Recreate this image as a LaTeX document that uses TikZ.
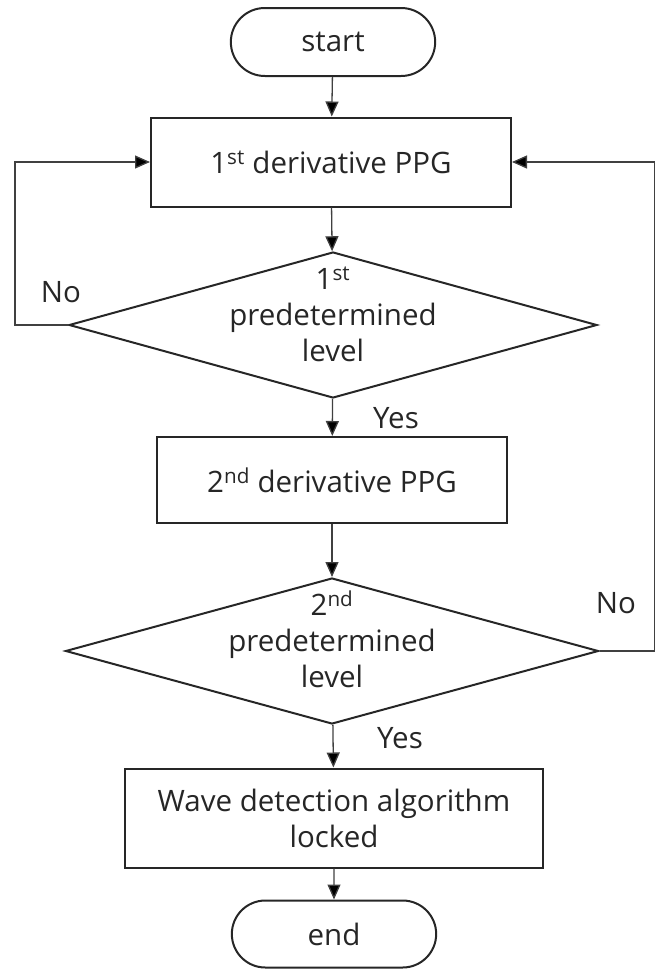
\documentclass[tikz,border=0pt]{standalone}
\usepackage{fontspec}
\setmainfont{Open Sans}
\usetikzlibrary{arrows.meta,shapes}
\tikzstyle{term}=[rounded rectangle,draw=black!85,line width=2pt,minimum width=211pt,minimum height=68pt,text=black!85]
\tikzstyle{proc}=[rectangle,draw=black!85,line width=2pt,align=center,text=black!85]
\tikzstyle{decide}=[diamond,draw=black!85,line width=2pt,inner sep=0pt,minimum height=146pt,text=black!85]
\tikzstyle{flow}=[-{Triangle[length=15pt,width=13pt,fill=black]},line width=1.3pt,draw=black!75]
\tikzstyle{lbl}=[text=black!85]
\newcommand{\dtext}[1]{\smash{\makebox[0pt]{\begin{tabular}{@{}c@{}}#1\end{tabular}}}}

\begin{document}
\begin{tikzpicture}[x=1pt,y=-1pt,font=\fontsize{29.5}{36}\selectfont]
\useasboundingbox (0,0) rectangle (657,969);
\node[term] (S) at (333,42) {start};
\node[proc,minimum width=360pt,minimum height=89pt] (P1) at (331,162) {1\textsuperscript{st} derivative PPG};
\node[decide,minimum width=528pt] (D1) at (333,325) {\dtext{1\textsuperscript{st}\\predetermined\\level}};
\node[proc,minimum width=350pt,minimum height=86pt] (P2) at (332,480) {2\textsuperscript{nd} derivative PPG};
\node[decide,minimum width=533pt] (D2) at (332,651) {\dtext{2\textsuperscript{nd}\\predetermined\\level}};
\node[proc,minimum width=418pt,minimum height=99pt] (P3) at (334,818) {Wave detection algorithm\\locked};
\node[term,minimum height=67pt] (E) at (334,934) {end};
\node[lbl] (N1) at (61,292) {No};
\node[lbl] (Y1) at (396,418) {Yes};
\node[lbl] (N2) at (616,603) {No};
\node[lbl] (Y2) at (400,738) {Yes};
\draw[flow](S)--(P1);\draw[flow](P1)--(D1);\draw[flow](D1)--(P2);
\draw[flow](P2)--(D2);\draw[flow](D2)--(P3);\draw[flow](P3)--(E);
\draw[flow](D1.west)--++(-53,0)|-(P1.west);
\draw[flow](D2.east)--++(55,0)|-(P1.east);
\end{tikzpicture}
\end{document}
